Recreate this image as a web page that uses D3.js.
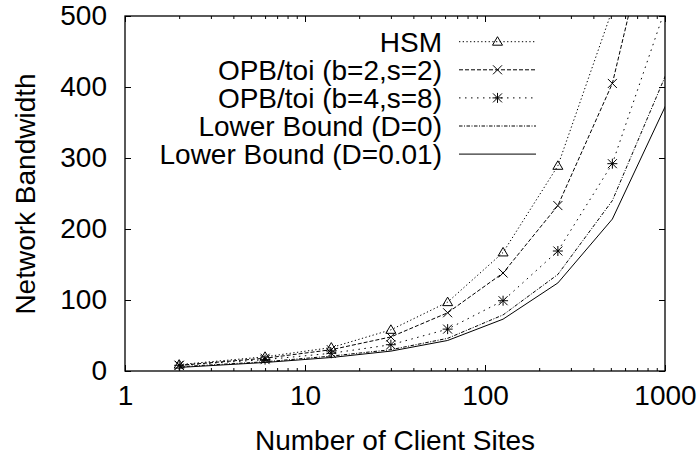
<!DOCTYPE html>
<html>
<head>
<meta charset="utf-8">
<script src="https://cdn.jsdelivr.net/npm/d3@7"></script>
<style>
  html, body { margin: 0; padding: 0; background: #fff; }
  svg { display: block; }
  text { font-family: "Liberation Sans", Arial, Helvetica, sans-serif; fill: #000; }
</style>
</head>
<body>
<svg id="chart" width="700" height="459"></svg>
<script>
// Number of client sites (x) and network bandwidth for each scheme (y)
const sites      = [2, 6, 14, 30, 62, 126, 254, 510, 1022];
const hsm        = [9, 20, 33, 58, 97, 167, 289, 509, 900];
const opbB2S2    = [8, 18, 30, 48, 82, 138, 233, 405, 727];
const opbB4S8    = [8, 16, 25, 37, 59, 99, 169, 292, 516];
const lowerD0    = [6, 13, 21, 30, 46, 79, 136, 240, 420];
const lowerD001  = [5, 12, 19, 28, 43, 73, 124, 214, 377];

const seriesNames = ["HSM", "OPB/toi (b=2,s=2)", "OPB/toi (b=4,s=8)", "Lower Bound (D=0)", "Lower Bound (D=0.01)"];
const seriesValues = [hsm, opbB2S2, opbB4S8, lowerD0, lowerD001];
const seriesMarkers = ["triangle", "cross", "star", null, null];
const seriesDash = ["1.3,2.4", "4,2", "1.5,4.5", "3.5,1.5,1,1.5", null];

const xMajorTicks = [1, 10, 100, 1000];
const yTicks = [0, 100, 200, 300, 400, 500];
const xLabel = "Number of Client Sites";
const yLabel = "Network Bandwidth";

(function draw() {
  const FONT = 28;
  const plotL = 125, plotR = 665, plotT = 16, plotB = 371;

  const svg = d3.select("#chart");
  svg.append("rect").attr("width", 700).attr("height", 459).attr("fill", "#fff");

  const x = d3.scaleLog().domain([1, 1000]).range([plotL, plotR]);
  const y = d3.scaleLinear().domain([0, 500]).range([plotB, plotT]);

  // minor ticks of the log axis: 2..9 within each decade
  const xMinorTicks = [];
  [1, 10, 100].forEach(d => { for (let k = 2; k <= 9; k++) xMinorTicks.push(d * k); });

  function styleAxis(g) {
    g.select(".domain").remove();
    g.selectAll(".tick line").attr("stroke", "#000").attr("stroke-width", 1);
    g.selectAll(".tick text").style("font-size", FONT + "px").attr("fill", "#000");
  }

  // bottom axis with labels
  svg.append("g").attr("transform", `translate(0,${plotB})`)
    .call(d3.axisBottom(x).tickValues(xMajorTicks).tickFormat(d3.format("d"))
      .tickSizeInner(-6).tickSizeOuter(0).tickPadding(14))
    .call(styleAxis);
  svg.append("g").attr("transform", `translate(0,${plotB})`)
    .call(d3.axisBottom(x).tickValues(xMinorTicks).tickFormat("")
      .tickSizeInner(-3).tickSizeOuter(0))
    .call(styleAxis);
  // mirrored top axis
  svg.append("g").attr("transform", `translate(0,${plotT})`)
    .call(d3.axisTop(x).tickValues(xMajorTicks).tickFormat("")
      .tickSizeInner(-6).tickSizeOuter(0))
    .call(styleAxis);
  svg.append("g").attr("transform", `translate(0,${plotT})`)
    .call(d3.axisTop(x).tickValues(xMinorTicks).tickFormat("")
      .tickSizeInner(-3).tickSizeOuter(0))
    .call(styleAxis);
  // left axis with labels, mirrored right axis
  svg.append("g").attr("transform", `translate(${plotL},0)`)
    .call(d3.axisLeft(y).tickValues(yTicks).tickFormat(d3.format("d"))
      .tickSizeInner(-6).tickSizeOuter(0).tickPadding(18))
    .call(styleAxis);
  svg.append("g").attr("transform", `translate(${plotR},0)`)
    .call(d3.axisRight(y).tickValues(yTicks).tickFormat("")
      .tickSizeInner(-6).tickSizeOuter(0))
    .call(styleAxis);

  // plot frame
  svg.append("rect")
    .attr("x", plotL).attr("y", plotT).attr("width", plotR - plotL).attr("height", plotB - plotT)
    .attr("fill", "none").attr("stroke", "#000").attr("stroke-width", 1.3);

  // axis titles
  svg.append("text")
    .attr("x", (plotL + plotR) / 2).attr("y", 440).attr("dy", "0.35em")
    .attr("text-anchor", "middle").style("font-size", FONT + "px").text(xLabel);
  svg.append("text")
    .attr("transform", `translate(25,194) rotate(-90)`).attr("dy", "0.35em")
    .attr("text-anchor", "middle").style("font-size", FONT + "px").text(yLabel);

  // clipping to the plot area
  svg.append("defs").append("clipPath").attr("id", "plot-clip")
    .append("rect").attr("x", plotL).attr("y", plotT).attr("width", plotR - plotL).attr("height", plotB - plotT);

  const markerPath = {
    triangle: "M0,-5L5,3.5L-5,3.5Z",
    cross: "M-4.5,-4.5L4.5,4.5M-4.5,4.5L4.5,-4.5",
    star: "M-4.5,-4.5L4.5,4.5M-4.5,4.5L4.5,-4.5M0,-5L0,5M-5,0L5,0"
  };

  const line = d3.line().x(d => x(d[0])).y(d => y(d[1]));
  const plot = svg.append("g").attr("clip-path", "url(#plot-clip)");

  seriesValues.forEach((vals, i) => {
    const pts = sites.map((s, j) => [s, vals[j]]);
    plot.append("path")
      .attr("d", line(pts))
      .attr("fill", "none").attr("stroke", "#000").attr("stroke-width", 1)
      .attr("stroke-dasharray", seriesDash[i]);
    if (seriesMarkers[i]) {
      plot.selectAll(null)
        .data(pts.filter(p => p[0] <= 1000 && p[1] <= 500))
        .enter().append("path")
        .attr("transform", p => `translate(${x(p[0])},${y(p[1])})`)
        .attr("d", markerPath[seriesMarkers[i]])
        .attr("fill", "none").attr("stroke", "#000").attr("stroke-width", 1);
    }
  });

  // legend
  const legend = svg.append("g");
  seriesNames.forEach((name, i) => {
    const cy = 41.7 + i * 28.1;
    legend.append("text")
      .attr("x", 442).attr("y", cy).attr("dy", "0.35em")
      .attr("text-anchor", "end").style("font-size", FONT + "px").text(name);
    legend.append("line")
      .attr("x1", 459).attr("x2", 536).attr("y1", cy).attr("y2", cy)
      .attr("stroke", "#000").attr("stroke-width", 1)
      .attr("stroke-dasharray", seriesDash[i]);
    if (seriesMarkers[i]) {
      legend.append("path")
        .attr("transform", `translate(497.5,${cy})`)
        .attr("d", markerPath[seriesMarkers[i]])
        .attr("fill", "none").attr("stroke", "#000").attr("stroke-width", 1);
    }
  });
})();
</script>
</body>
</html>
